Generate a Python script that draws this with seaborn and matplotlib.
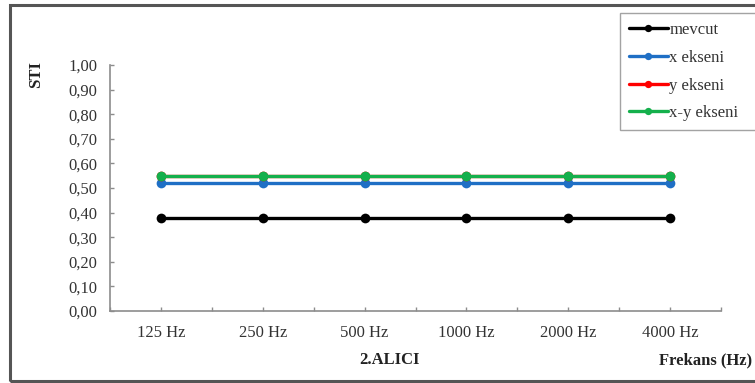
import matplotlib
matplotlib.use("Agg")
import matplotlib.pyplot as plt
from matplotlib.patches import Rectangle
from matplotlib.ticker import FuncFormatter
import seaborn as sns
import pandas as pd

# Frequency bands and STI values for each configuration
frekans = ["125 Hz", "250 Hz", "500 Hz", "1000 Hz", "2000 Hz", "4000 Hz"]
mevcut = [0.38, 0.38, 0.38, 0.38, 0.38, 0.38]
x_ekseni = [0.52, 0.52, 0.52, 0.52, 0.52, 0.52]
y_ekseni = [0.55, 0.55, 0.55, 0.55, 0.55, 0.55]
xy_ekseni = [0.55, 0.55, 0.55, 0.55, 0.55, 0.55]

series = {
    "mevcut": mevcut,
    "x ekseni": x_ekseni,
    "y ekseni": y_ekseni,
    "x-y ekseni": xy_ekseni,
}
colors = {
    "mevcut": "#000000",
    "x ekseni": "#1f6fc5",
    "y ekseni": "#ff0000",
    "x-y ekseni": "#14b04c",
}

df = pd.DataFrame(
    [(f, name, v) for name, vals in series.items() for f, v in zip(frekans, vals)],
    columns=["Frekans", "Seri", "STI"],
)

sns.set_theme(style="white")
plt.rcParams["font.family"] = ["Liberation Serif", "DejaVu Serif"]

FS = 12
fig = plt.figure(figsize=(7.55, 3.83), dpi=100)
W, H = 755, 383
ax = fig.add_axes([110 / W, 1 - 311 / H, (721 - 110) / W, (311 - 65) / H])

sns.lineplot(
    data=df, x="Frekans", y="STI", hue="Seri", hue_order=list(series),
    palette=colors, marker="o", markersize=7, markeredgewidth=0,
    linewidth=2.4, sort=False, ax=ax, legend=True,
)

ax.set_xlim(-0.5, len(frekans) - 0.5)
ax.set_ylim(0, 1.0)
ax.set_yticks([i / 10 for i in range(11)])
ax.yaxis.set_major_formatter(FuncFormatter(lambda v, p: f"{v:.2f}".replace(".", ",")))
ax.set_xticks(range(len(frekans)))
ax.set_xticklabels(frekans)
ax.set_xticks([i - 0.5 for i in range(len(frekans) + 1)], minor=True)

for side in ("top", "right"):
    ax.spines[side].set_visible(False)
for side in ("left", "bottom"):
    ax.spines[side].set_color("#8c8c8c")
    ax.spines[side].set_linewidth(1.2)

ax.tick_params(axis="both", which="both", direction="in", length=3, width=1,
               color="#8c8c8c", labelsize=FS, labelcolor="#333333",
               bottom=True, left=True)
ax.tick_params(axis="y", pad=9)
ax.tick_params(axis="x", pad=10)
ax.set_xlabel("")
ax.set_ylabel("")

handles, labels = ax.get_legend_handles_labels()
if ax.get_legend():
    ax.get_legend().remove()
leg = fig.legend(
    handles, labels, loc="upper left",
    bbox_to_anchor=(620 / W, 1 - 13 / H, 160 / W, 0.0), mode="expand",
    frameon=True, fancybox=False,
    fontsize=FS, handlelength=2.3, handletextpad=0.1, labelspacing=0.7,
    borderpad=0.55, borderaxespad=0, markerscale=0.75,
)
leg.get_frame().set_edgecolor("#8c8c8c")
leg.get_frame().set_linewidth(1.0)
for t in leg.get_texts():
    t.set_color("#333333")

fig.text(36 / W, 1 - 75 / H, "STI", rotation=90, ha="center", va="center",
         fontsize=FS, fontweight="bold", color="#222222")
fig.text(390 / W, 1 - 360 / H, "2.ALICI", ha="center", va="center",
         fontsize=FS, fontweight="bold", color="#222222")
fig.text(752 / W, 1 - 360 / H, "Frekans (Hz)", ha="right", va="center",
         fontsize=FS, fontweight="bold", color="#222222")

# Outer frame around the chart area
fig.patches.append(Rectangle((10 / W, 1 - 381 / H), 800 / W, (381 - 5) / H,
                             transform=fig.transFigure, fill=False,
                             edgecolor="#555555", linewidth=2.2))

fig.savefig("out.png", dpi=100, facecolor="white")
